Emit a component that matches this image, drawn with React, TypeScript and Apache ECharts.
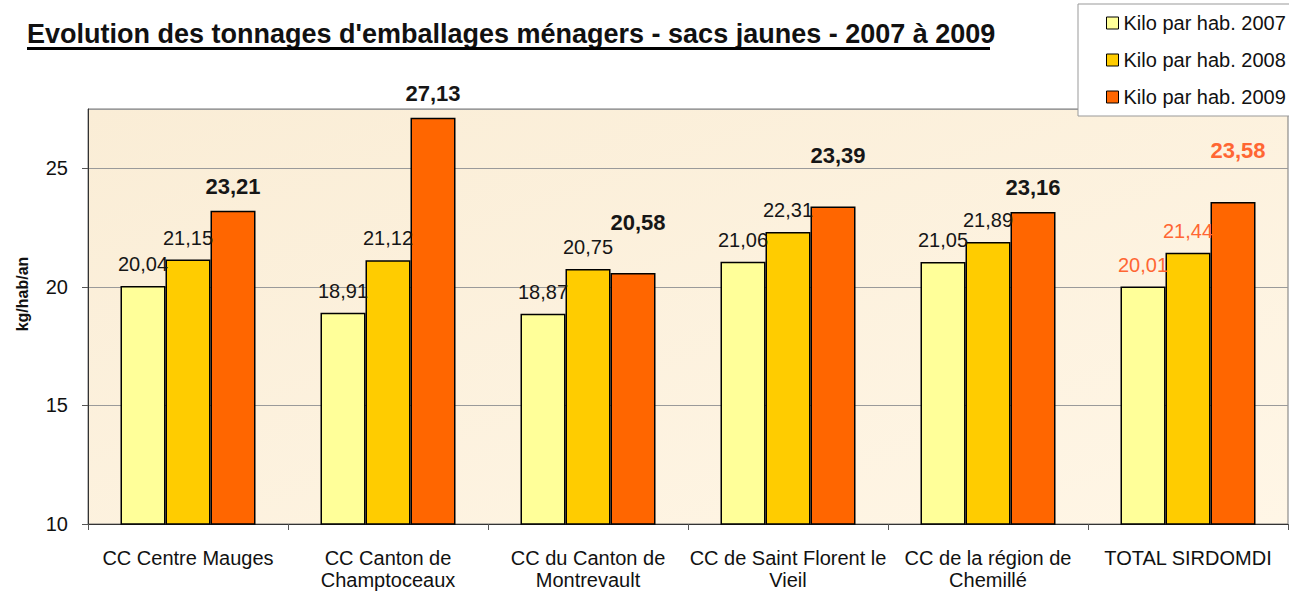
import React, { useEffect, useRef } from "react";
import * as echarts from "echarts";

const categories = [
  "CC Centre Mauges",
  "CC Canton de\nChamptoceaux",
  "CC du Canton de\nMontrevault",
  "CC de Saint Florent le\nVieil",
  "CC de la région de\nChemillé",
  "TOTAL SIRDOMDI",
];
const seriesNames = ["Kilo par hab. 2007", "Kilo par hab. 2008", "Kilo par hab. 2009"];
const values2007 = [20.04, 18.91, 18.87, 21.06, 21.05, 20.01];
const values2008 = [21.15, 21.12, 20.75, 22.31, 21.89, 21.44];
const values2009 = [23.21, 27.13, 20.58, 23.39, 23.16, 23.58];
const yTicks = [10, 15, 20, 25];
const titleText = "Evolution des tonnages d'emballages ménagers - sacs jaunes - 2007 à 2009";
const yAxisName = "kg/hab/an";

// style config
const barColors = ["#FFFF99", "#FFCC00", "#FF6600"];
const totalIndex = 5;
const raisedLabels2009 = [2, 3, 5];
const totalLabelColor = "#FF6633";

const fmt = (v: number) => v.toFixed(2).replace(".", ",");

export default function App() {
  const ref = useRef<HTMLDivElement>(null);
  useEffect(() => {
    document.body.style.margin = "0";
    if (!ref.current) return;
    const chart = echarts.init(ref.current, null, { renderer: "svg" });
    const allValues = [values2007, values2008, values2009];
    const series = allValues.map((vals, si) => ({
      name: seriesNames[si],
      type: "bar",
      barGap: "0%",
      barCategoryGap: "32.5%",
      itemStyle: { color: barColors[si], borderColor: "#000", borderWidth: 1.5 },
      label: {
        show: true,
        position: "top",
        distance: si === 2 ? 13 : 12,
        fontFamily: "Liberation Sans, Arial, sans-serif",
        fontSize: si === 2 ? 22 : 20,
        fontWeight: si === 2 ? "bold" : "normal",
        color: "#161616",
        formatter: (p: any) => fmt(p.value),
      },
      data: vals.map((v, i) => {
        const item: any = { value: v };
        const lbl: any = {};
        if (i === totalIndex) lbl.color = totalLabelColor;
        if (si === 2 && raisedLabels2009.includes(i)) lbl.offset = [5, -27];
        if (Object.keys(lbl).length) item.label = lbl;
        return item;
      }),
    }));
    chart.setOption({
      animation: false,
      textStyle: { fontFamily: "Liberation Sans, Arial, sans-serif" },
      grid: {
        left: 88,
        right: 1,
        top: 109,
        bottom: 77,
        show: true,
        borderColor: "#777",
        borderWidth: 1,
        backgroundColor: {
          type: "linear",
          x: 0,
          y: 0,
          x2: 1,
          y2: 1,
          colorStops: [
            { offset: 0, color: "#FAEDD6" },
            { offset: 1, color: "#FFF6E6" },
          ],
        },
      },
      legend: {
        left: 1078,
        top: 4,
        orient: "vertical",
        icon: "rect",
        itemWidth: 12,
        itemHeight: 12,
        itemGap: 17,
        padding: [9, 10, 9, 28],
        backgroundColor: "#fff",
        borderColor: "#999",
        borderWidth: 1,
        textStyle: { fontSize: 20, color: "#111" },
        itemStyle: { borderColor: "#000", borderWidth: 1 },
        data: seriesNames,
      },
      xAxis: {
        type: "category",
        data: categories,
        axisLine: { lineStyle: { color: "#333", width: 1 } },
        axisTick: { show: true, length: 6, lineStyle: { color: "#555" } },
        axisLabel: {
          interval: 0,
          fontSize: 20,
          lineHeight: 22,
          margin: 23,
          color: "#111",
        },
      },
      yAxis: {
        type: "value",
        min: yTicks[0],
        max: 27.5,
        interval: 5,
        axisLine: { show: true, lineStyle: { color: "#333", width: 1 } },
        axisTick: { show: true, length: 6, lineStyle: { color: "#555" } },
        axisLabel: {
          fontSize: 20,
          margin: 20,
          color: "#111",
          showMaxLabel: false,
          formatter: (v: number) => (yTicks.includes(v) ? String(v) : ""),
        },
        splitLine: { lineStyle: { color: "#9a9a9a", width: 1 } },
      },
      graphic: [
        {
          type: "text",
          x: 27,
          y: 34,
          style: {
            text: titleText,
            font: "bold 27px Liberation Sans, Arial, sans-serif",
            fill: "#111",
            align: "left",
            verticalAlign: "middle",
          },
        },
        {
          type: "rect",
          shape: { x: 27, y: 47, width: 963, height: 3 },
          style: { fill: "#000" },
        },
        {
          type: "text",
          x: 22,
          y: 294,
          rotation: Math.PI / 2,
          style: {
            text: yAxisName,
            font: "bold 16px Liberation Sans, Arial, sans-serif",
            fill: "#111",
            align: "center",
            verticalAlign: "middle",
          },
        },
      ],
      series,
    });
    return () => chart.dispose();
  }, []);
  return <div ref={ref} style={{ width: 1289, height: 601 }} />;
}
